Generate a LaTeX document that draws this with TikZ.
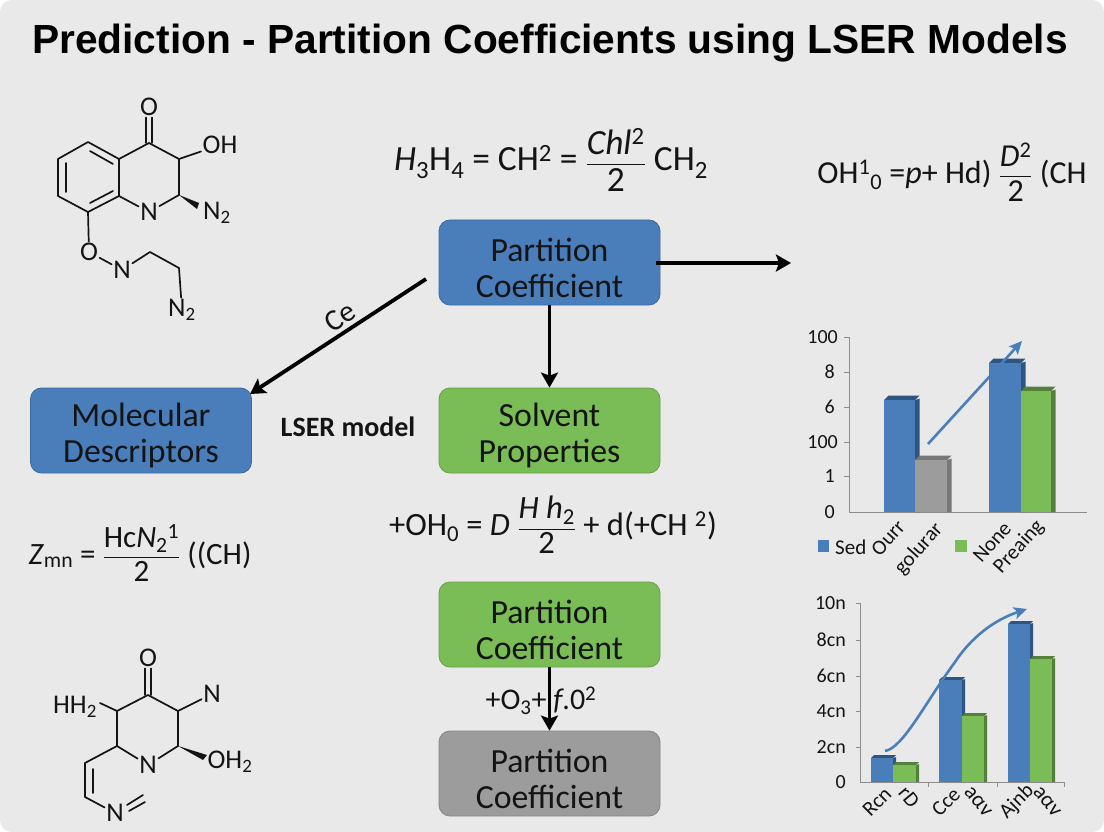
\documentclass[tikz,border=0pt]{standalone}
\usepackage{amsmath}
\usepackage{fontspec}
\setmainfont{Carlito}
\newfontfamily\titlefont{Liberation Sans}
\usetikzlibrary{arrows.meta,calc}
\definecolor{bgc}{HTML}{E9E9E9}
\definecolor{bluef}{HTML}{4A7EBB}
\definecolor{blued}{HTML}{3A6A9F}
\definecolor{blues}{HTML}{2E5582}
\definecolor{greenf}{HTML}{7ABD57}
\definecolor{greend}{HTML}{66A047}
\definecolor{greens}{HTML}{55803C}
\definecolor{grayf}{HTML}{9C9C9C}
\definecolor{grayd}{HTML}{858585}
\definecolor{grays}{HTML}{777777}
\definecolor{inkc}{HTML}{141414}
\newcommand{\fsz}[1]{\fontsize{#1}{#1}\selectfont}
\newcommand{\frc}[2]{$\genfrac{}{}{1pt}{0}{\hbox{#1}}{\hbox{#2}}$}
\newcommand{\up}[1]{\textsuperscript{#1}}
\newcommand{\dn}[1]{\textsubscript{#1}}
\newcommand{\barthree}[8]{% x0,x1,top,base,front,side,topcol,depth
  \fill[#6] (#2,#3) -- ++(#8,-#8*0.3) -- (#2+#8,#4) -- (#2,#4) -- cycle;
  \fill[#7] (#1,#3) -- ++(#8,-#8) -- ++(#2-#1,0) -- (#2,#3) -- cycle;
  \fill[#5] (#1,#3) rectangle (#2,#4);
}
\tikzset{
  flowbox/.style={draw=#1,line width=0.8pt,rounded corners=11pt,minimum width=221pt,minimum height=85pt,
    inner sep=0pt},
  boxtxt/.style={inner sep=0pt,align=center,text=inkc,font=\fontsize{33.8}{36}\selectfont},
  conn/.style={draw=black,line width=3.8pt,-{Stealth[length=15pt,width=17pt,inset=3pt]}},
  eqn/.style={text=inkc,inner sep=0pt},
  atom/.style={text=inkc,font=\fsz{27},inner sep=1.5pt},
  bond/.style={draw=inkc,line width=1.7pt,line cap=round,line join=round},
  tick/.style={text=inkc,font=\fsz{20},inner sep=0pt,anchor=east},
  axisl/.style={draw=black!45,line width=0.9pt},
  cat/.style={text=inkc,font=\fsz{21},inner sep=0pt},
  bluearrow/.style={draw=bluef,line width=2.6pt,-{Stealth[length=13pt,width=12pt,inset=3pt]}}
}
\begin{document}
\begin{tikzpicture}[x=1pt,y=-1pt]
\useasboundingbox (0,0) rectangle (1104,832);
\fill[white] (0,0) rectangle (1104,832);
\fill[bgc,rounded corners=12pt] (0,0) rectangle (1104,832);

\node[inner sep=0pt,text=black,font=\titlefont\bfseries\fsz{40.7}] (title) at (550,43) {Prediction - Partition Coefficients using LSER Models};

% flow boxes
\node[flowbox=blued,fill=bluef] (pc) at (549.5,262.5) {};
\node[flowbox=blued,fill=bluef] (md) at (141,430.5) {};
\node[flowbox=greend,fill=greenf] (sp) at (549.5,430.5) {};
\node[flowbox=greend,fill=greenf] (pg) at (549.5,624.5) {};
\node[flowbox=grayd,fill=grayf] (pn) at (549.5,773.5) {};
\node[boxtxt] (pct) at ([yshift=-5pt]pc.center) {Partition\\Coefficient};
\node[boxtxt] (mdt) at ([yshift=-5pt]md.center) {Molecular\\Descriptors};
\node[boxtxt] (spt) at ([yshift=-5pt]sp.center) {Solvent\\Properties};
\node[boxtxt] (pgt) at ([yshift=-5pt]pg.center) {Partition\\Coefficient};
\node[boxtxt] (pnt) at ([yshift=-5pt]pn.center) {Partition\\Coefficient};

% equations
\node[eqn,font=\fsz{35.4}] (e1) at (551,160) {\textit{H}\dn{3}H\dn{4} = CH\up{2} = \frc{\textit{Chl}\up{2}}{2} CH\dn{2}};
\node[eqn,font=\fsz{32}] (e2) at (952,172) {OH\up{1}\dn{0} =\textit{p}+ Hd) \frc{\textit{D}\up{2}}{2} (CH};
\node[eqn,font=\fsz{31}] (e3) at (140,553) {\textit{Z}\dn{mn} = \frc{Hc\textit{N}\dn{2}\up{1}}{2} ((CH)};
\node[eqn,font=\fsz{32.5}] (e4) at (553,525) {+OH\dn{0} = \textit{D} \frc{\textit{H h}\dn{2}}{2} + d(+CH \up{2})};
\node[eqn,font=\fsz{30}] (e5) at (541,701) {+O\dn{3}+ \textit{f}.0\up{2}};
\node[text=inkc,font=\bfseries\fsz{28},inner sep=0pt] (lser) at (348,427) {LSER model};
\node[text=inkc,font=\fsz{30},inner sep=0pt,rotate=33] (ce) at (340,317) {Ce};

% connectors
\coordinate (pcl) at (426,279);
\coordinate (mdtop) at (250,394);
\coordinate (pcr) at (656,263);
\coordinate (rgt) at (791,263);
\draw[conn] (pcl) -- (mdtop);
\draw[conn] (pcr) -- (rgt);
\draw[conn] (pc.south) -- (sp.north);
\draw[conn] (pg.south) -- (pn.north);

% molecule 1
\node[atom] (o1) at (149,107) {O};
\node[atom] (oh1) at (220,145) {OH};
\node[atom] (n1) at (149,212) {N};
\node[atom] (n21) at (217,213) {N\dn{2}};
\node[atom] (o2) at (89,252) {O};
\node[atom] (n3) at (122,270) {N};
\node[atom] (n22) at (182,310) {N\dn{2}};
\coordinate (a1) at (88,142); \coordinate (a2) at (58,159); \coordinate (a3) at (58,196);
\coordinate (a4) at (88,212); \coordinate (a5) at (119,196); \coordinate (a6) at (119,159);
\coordinate (c1) at (149,143); \coordinate (c2) at (179,159); \coordinate (c3) at (179,195);
\coordinate (c4) at (150,252); \coordinate (c5) at (179,268);
\draw[bond] (a6) -- (a1) -- (a2) -- (a3) -- (a4) -- (a5) -- (a6) -- (c1) -- (c2) -- (c3);
\draw[bond] (66,163) -- (66,192);
\draw[bond] (90,151) -- (113,164);
\draw[bond] (90,203) -- (113,191);
\draw[bond] (a5) -- (n1);
\draw[bond] (c3) -- (n1);
\draw[bond] (a4) -- (o2);
\draw[bond] (o2) -- (n3);
\draw[bond] (n3) -- (c4) -- (c5) -- (n22);
\draw[bond] (c2) -- (oh1);
\draw[bond] ([xshift=-3pt]c1) -- ([xshift=-3pt]o1.south);
\draw[bond] ([xshift=3pt]c1) -- ([xshift=3pt]o1.south);
\fill[inkc] (c3) -- (199,203) -- (197,209) -- cycle;

% molecule 2
\node[atom] (o3) at (148,658) {O};
\node[atom] (n4) at (212,694) {N};
\node[atom] (oh2) at (230,762) {OH\dn{2}};
\node[atom] (n5) at (148,765) {N};
\node[atom] (hh) at (75,707) {HH\dn{2}};
\node[atom] (n6) at (115,813) {N};
\coordinate (b1) at (148,695); \coordinate (b2) at (178,711); \coordinate (b3) at (178,746);
\coordinate (b4) at (117,746); \coordinate (b5) at (117,711); \coordinate (b6) at (100,703);
\coordinate (b7) at (85,763); \coordinate (b8) at (85,797);
\draw[bond] (b6) -- (b5) -- (b1) -- (b2) -- (b3) -- (n5);
\draw[bond] (b5) -- (b4) -- (n5);
\draw[bond] (b2) -- (n4);
\draw[bond] (b4) -- (b7) -- (b8) -- (n6);
\draw[bond] (93,769) -- (93,793);
\draw[bond] ([xshift=-3pt]b1) -- ([xshift=-3pt]o3.south);
\draw[bond] ([xshift=3pt]b1) -- ([xshift=3pt]o3.south);
\draw[bond] (127,805) -- (143,795);
\draw[bond] (129,811) -- (145,802);
\fill[inkc] (b3) -- (207,755) -- (203,760) -- cycle;

% chart 1
\draw[axisl] (849,337) -- (849,512) -- (1087,512);
\foreach \yy in {337,372,407,442,476} \draw[axisl] (849,\yy) -- (844,\yy);
\node[tick] at (838,337) {100};
\node[tick] at (835,372) {8};
\node[tick] at (835,407) {6};
\node[tick] at (838,442) {100};
\node[tick] at (835,476) {1};
\node[tick] at (835,512) {0};
\barthree{884}{915}{400}{512}{bluef}{blues}{blues}{4.5}
\barthree{915}{947}{460}{512}{grayf}{grays}{grays}{4.5}
\barthree{989}{1021}{363}{512}{bluef}{blues}{blues}{4.5}
\barthree{1021}{1051}{391}{512}{greenf}{greens}{greens}{4.5}
\coordinate (ar1s) at (928,444); \coordinate (ar1e) at (1022,341);
\draw[bluearrow] (ar1s) -- (ar1e);
\fill[bluef] (818,540) rectangle (829,552);
\fill[greenf] (955,540) rectangle (967,552);
\node[cat,anchor=west] at (835,547) {Sed};
\node[cat,rotate=48] at (888,538) {Ourr};
\node[cat,rotate=48] at (919,549) {golurar};
\node[cat,rotate=48] at (992,542) {None};
\node[cat,rotate=48] at (1019,547) {Preaing};

% chart 2
\draw[axisl] (860,603) -- (860,782) -- (1064,782);
\foreach \yy in {603,640,676,711,747} \draw[axisl] (860,\yy) -- (856,\yy);
\foreach \xx in {928,997,1064} \draw[axisl] (\xx,782) -- (\xx,787);
\node[tick] at (846,603) {10n};
\node[tick] at (846,640) {8cn};
\node[tick] at (846,676) {6cn};
\node[tick] at (846,711) {4cn};
\node[tick] at (846,747) {2cn};
\node[tick] at (846,782) {0};
\barthree{871}{893}{758}{782}{bluef}{blues}{blues}{3}
\barthree{893}{916}{765}{782}{greenf}{greens}{greens}{3}
\barthree{939}{962}{680}{782}{bluef}{blues}{blues}{3}
\barthree{962}{984}{716}{782}{greenf}{greens}{greens}{3}
\barthree{1008}{1030}{624}{782}{bluef}{blues}{blues}{3}
\barthree{1030}{1052}{659}{782}{greenf}{greens}{greens}{3}
\coordinate (ar2s) at (885,751); \coordinate (ar2e) at (1027,609);
\draw[bluearrow] (ar2s) .. controls (903,748) and (925,703) .. (955,662) .. controls (975,632) and (1000,618) .. (ar2e);
\node[cat,rotate=45] at (877,802) {Rcn};
\node[cat,rotate=-50] at (909,797) {rD};
\node[cat,rotate=45] at (946,802) {Cce};
\node[cat,font=\fsz{22},rotate=-50] at (978,802) {aαv};
\node[cat,rotate=45] at (1017,802) {Ajnb};
\node[cat,font=\fsz{22},rotate=-50] at (1047,802) {aαv};
\end{tikzpicture}
\end{document}
